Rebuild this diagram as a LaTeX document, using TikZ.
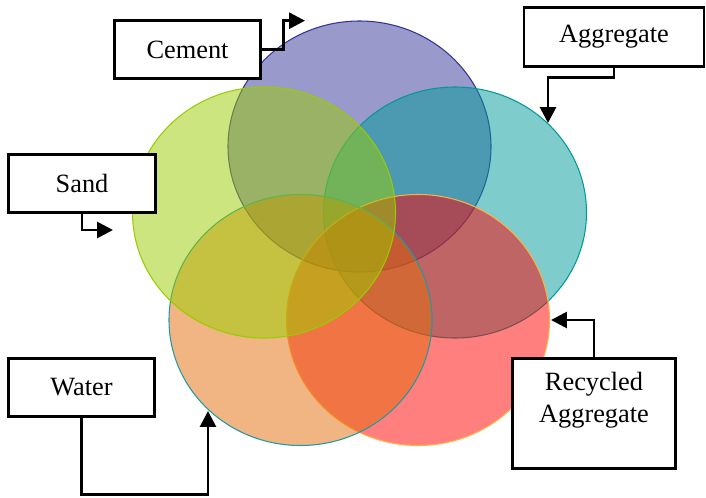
\documentclass[tikz,border=0pt]{standalone}
\usepackage{fontspec}
\setmainfont{Liberation Serif}
\usetikzlibrary{arrows.meta}

\definecolor{cementBlue}{HTML}{333399}
\definecolor{aggTeal}{HTML}{009999}
\definecolor{recRed}{HTML}{FF0000}
\definecolor{recEdge}{HTML}{FFB040}
\definecolor{waterOrange}{HTML}{E46C0A}
\definecolor{waterEdge}{HTML}{1F9AA0}
\definecolor{sandGreen}{HTML}{99CC00}

\begin{document}
\begin{tikzpicture}[x=0.02cm, y=-0.02cm,
  ring/.style={line width=0.6pt, fill opacity=0.5},
  box/.style={draw, line width=1.5pt, fill=white, align=center,
    font=\fontsize{15}{18.5}\selectfont},
  feed/.style={line width=1.6pt, -{Triangle[length=9pt,width=9pt]}}]

\useasboundingbox (0,0) rectangle (706,497);

% rings, back to front
\draw[ring, fill=cementBlue, draw=cementBlue] (359.5,146.5) ellipse [x radius=131.5, y radius=125.5];
\draw[ring, fill=aggTeal, draw=aggTeal] (455,212.5) ellipse [x radius=131.5, y radius=125.5];
\draw[ring, fill=recRed, draw=recEdge] (418,320) ellipse [x radius=131.5, y radius=125.5];
\draw[ring, fill=waterOrange, draw=waterEdge] (300.5,320) ellipse [x radius=131.5, y radius=125.5];
\draw[ring, fill=sandGreen, draw=sandGreen] (264,212.5) ellipse [x radius=131.5, y radius=125.5];

% labels
\node[box, minimum width=2.92cm, minimum height=1.16cm] (cement) at (187.5,49.5) {Cement};
\node[box, minimum width=3.6cm, minimum height=1.18cm] (aggregate) at (614,37) {Aggregate};
\node[box, minimum width=2.94cm, minimum height=1.16cm] (sand) at (82,183.5) {Sand};
\node[box, minimum width=2.92cm, minimum height=1.16cm] (water) at (81.5,387.5) {Water};
\node[box, minimum width=3.26cm, minimum height=2.2cm] (recycled) at (594,413.5) {Recycled\\Aggregate\\\mbox{}};

% arrow ends on the rings
\coordinate (cementTip) at (305,20.7);
\coordinate (aggTip) at (548,123);
\coordinate (sandTip) at (113,230);
\coordinate (waterTip) at (208,411);
\coordinate (recTip) at (551,320);

\draw[feed] (cement.east) -- ++(22,0) |- (cementTip);
\draw[feed] (aggregate.south) -- ++(0,10) -| (aggTip);
\draw[feed] (sand.south) |- (sandTip);
\draw[feed] (water.south) -- ++(0,77) -| (waterTip);
\draw[feed] (recycled.north) |- (recTip);

\end{tikzpicture}
\end{document}
